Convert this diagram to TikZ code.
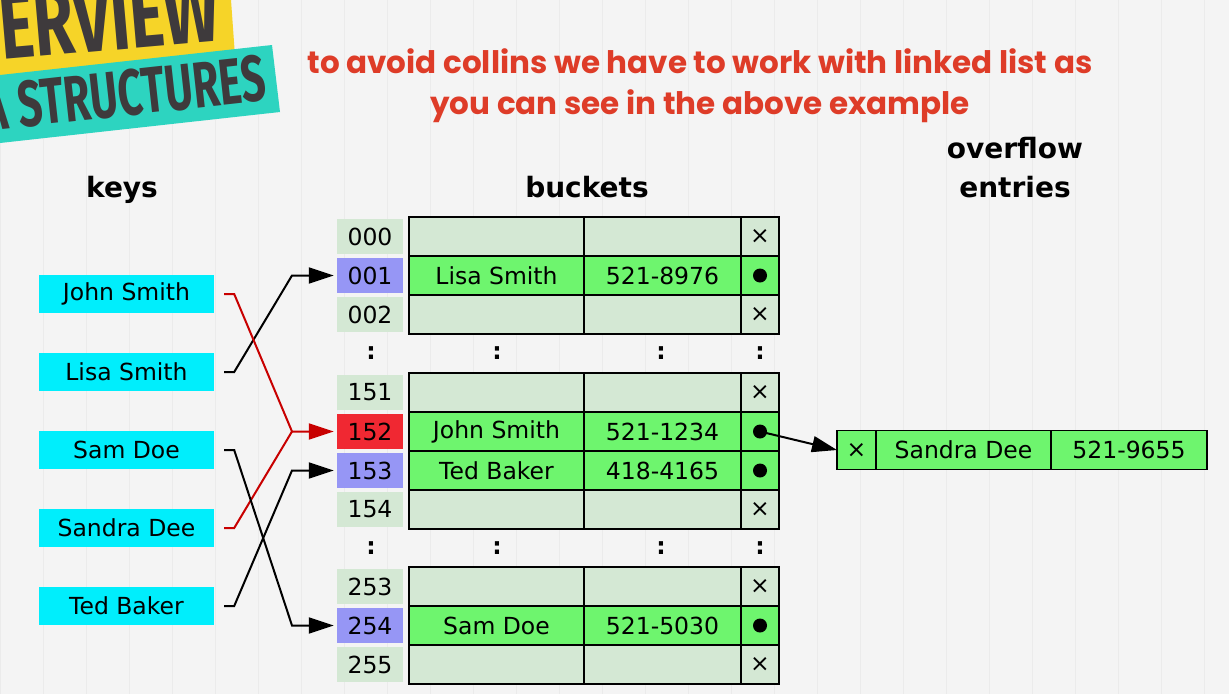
\documentclass[tikz,border=0pt]{standalone}
\usepackage{fontspec}
\setmainfont{DejaVu Sans}
\newfontfamily\titlefont{Poppins}
\newfontfamily\bannerfont{Fira Sans}
\usepackage{tikz}
\usepackage{xcolor}
\usetikzlibrary{arrows.meta,positioning}

\definecolor{paper}{RGB}{244,244,244}
\definecolor{paperline}{RGB}{235,235,235}
\definecolor{keycyan}{RGB}{0,238,252}
\definecolor{emptygreen}{RGB}{212,232,212}
\definecolor{fullgreen}{RGB}{110,245,110}
\definecolor{hitblue}{RGB}{150,150,245}
\definecolor{hitred}{RGB}{240,40,50}
\definecolor{linkred}{RGB}{200,0,0}
\definecolor{titlered}{RGB}{222,60,40}
\definecolor{banneryellow}{RGB}{246,212,40}
\definecolor{bannerteal}{RGB}{45,212,192}
\definecolor{bannerink}{RGB}{62,58,60}

\begin{document}
\begin{tikzpicture}[x=1pt,y=-1pt,
  tabletext/.style={font=\fontsize{23.5}{28}\selectfont},
  keybox/.style={tabletext, fill=keycyan, minimum width=175pt, minimum height=38pt, inner sep=0pt},
  idxbox/.style={tabletext, minimum width=66pt, minimum height=35pt, inner sep=0pt},
  cell/.style={tabletext, draw=black, line width=1.9pt, minimum height=39pt, inner sep=0pt, outer sep=0pt},
  ptrdot/.style={circle, fill=black, minimum size=14pt, inner sep=0pt},
  vdots/.style={font=\bfseries\fontsize{23.5}{28}\selectfont},
  head/.style={font=\bfseries\fontsize{28}{39}\selectfont, align=center},
  link/.style={line width=2pt, -{Triangle[length=25pt,width=16pt]}, shorten >=3pt},
  wire/.style={line width=2pt}]

\useasboundingbox (0,0) rectangle (1229,694);
\fill[paper] (0,0) rectangle (1229,694);
\draw[paperline, line width=0.6pt] (0,0) grid[step=43] (1229,694);

% banner
\begin{scope}
\clip (0,0) rectangle (1229,694);
\fill[banneryellow] (0,0) -- (231,0) -- (236,70) -- (0,90) -- cycle;
\node[text=bannerink, font=\bannerfont\bfseries\fontsize{95}{95}\selectfont, anchor=base west, inner sep=0pt, rotate=5, xscale=0.69] (bover) at (2,60) {ERVIEW};
\fill[bannerteal] (0,75) -- (272,45) -- (280,112) -- (0,143) -- cycle;
\node[text=bannerink, font=\bannerfont\bfseries\fontsize{65}{65}\selectfont, anchor=base east, inner sep=0pt, rotate=6.3, xscale=0.66] (bdata) at (268,100) {A STRUCTURES};
\end{scope}

\node[text=titlered, font=\titlefont\bfseries\fontsize{31}{41}\selectfont, align=center] (title) at (700,86)
  {to avoid collins we have to work with linked list as\\you can see in the above example};

\node[head, anchor=base] (hkeys) at (122,197) {keys};
\node[head, anchor=base] (hbuckets) at (587,197) {buckets};
\node[head] (hoverflow) at (1015,168) {overflow\\entries};

% keys
\node[keybox] (kJohn) at (126.5,294) {John Smith};
\node[keybox] (kLisa) at (126.5,372) {Lisa Smith};
\node[keybox] (kSam) at (126.5,450) {Sam Doe};
\node[keybox] (kSandra) at (126.5,528) {Sandra Dee};
\node[keybox] (kTed) at (126.5,606) {Ted Baker};

% buckets
\foreach \id/\y/\ic/\rc/\nm/\ph/\pt in {
  000/236.5/emptygreen/emptygreen/{}/{}/×,
  001/275.5/hitblue/fullgreen/Lisa Smith/521-8976/{},
  002/314.5/emptygreen/emptygreen/{}/{}/×,
  151/392.5/emptygreen/emptygreen/{}/{}/×,
  152/431.5/hitred/fullgreen/John Smith/521-1234/{},
  153/470.5/hitblue/fullgreen/Ted Baker/418-4165/{},
  154/509.5/emptygreen/emptygreen/{}/{}/×,
  253/586.5/emptygreen/emptygreen/{}/{}/×,
  254/625.5/hitblue/fullgreen/Sam Doe/521-5030/{},
  255/664.5/emptygreen/emptygreen/{}/{}/×}{
  \node[idxbox, fill=\ic] (i\id) at (370,\y) {\id};
  \node[cell, fill=\rc, minimum width=175pt] (n\id) at (496.5,\y) {\nm};
  \node[cell, fill=\rc, minimum width=157pt] (t\id) at (662.5,\y) {\ph};
  \node[cell, fill=\rc, minimum width=38pt] (p\id) at (760,\y) {\pt};
}
\foreach \id in {001,152,153,254}
  \node[ptrdot] (d\id) at (p\id) {};

\foreach \x/\c in {371/a,497/b,661/c,760/d}{
  \node[vdots] (u\c) at (\x,353) {:};
  \node[vdots] (l\c) at (\x,548) {:};
}

% overflow entry
\node[cell, fill=fullgreen, minimum width=39pt] (ox) at (856.5,450) {×};
\node[cell, fill=fullgreen, minimum width=175pt, right=0pt of ox] (oname) {Sandra Dee};
\node[cell, fill=fullgreen, minimum width=156pt, right=0pt of oname] (ophone) {521-9655};

% hashing
\coordinate (m001) at (292,275.5);
\coordinate (m152) at (292,431.5);
\coordinate (m153) at (292,470.5);
\coordinate (m254) at (292,625.5);
\draw[link] ([xshift=10pt]kLisa.east) -- ++(10,0) -- (m001) -- (i001.west);
\draw[link, linkred] ([xshift=10pt]kJohn.east) -- ++(10,0) -- (m152) -- (i152.west);
\draw[wire, linkred] ([xshift=10pt]kSandra.east) -- ++(10,0) -- (m152);
\draw[link] ([xshift=10pt]kTed.east) -- ++(10,0) -- (m153) -- (i153.west);
\draw[link] ([xshift=10pt]kSam.east) -- ++(10,0) -- (m254) -- (i254.west);
\draw[link, shorten >=0pt] (d152.center) -- (ox.west);

\end{tikzpicture}
\end{document}
